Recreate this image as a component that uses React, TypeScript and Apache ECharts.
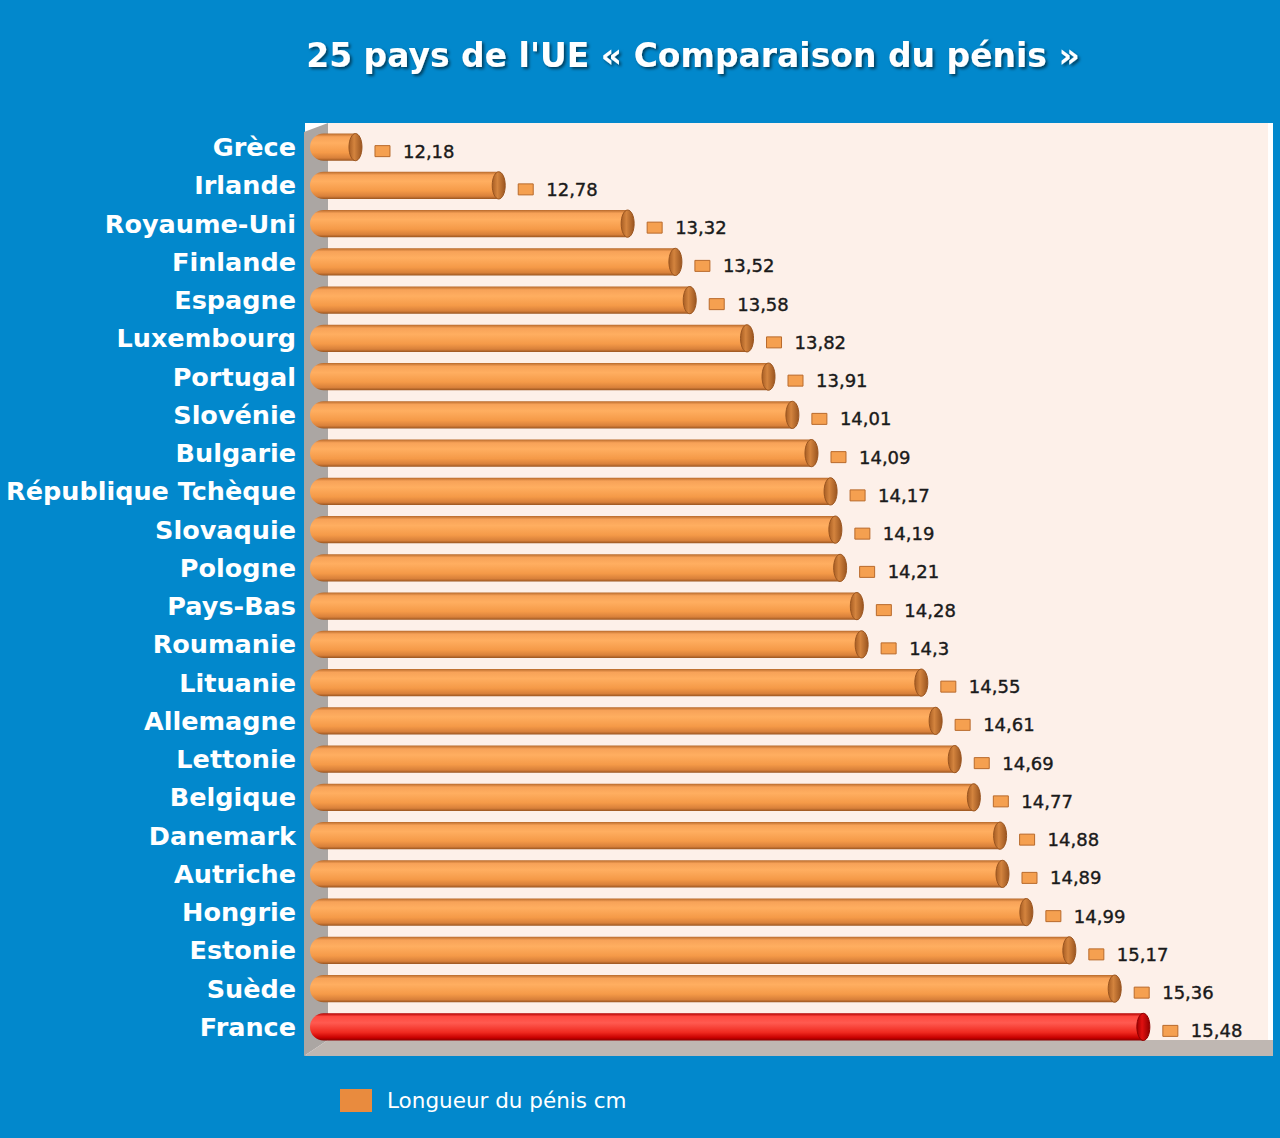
import React, { useEffect, useRef } from "react";
import * as echarts from "echarts";

const categories = [
  "Grèce", "Irlande", "Royaume-Uni", "Finlande", "Espagne", "Luxembourg",
  "Portugal", "Slovénie", "Bulgarie", "République Tchèque", "Slovaquie",
  "Pologne", "Pays-Bas", "Roumanie", "Lituanie", "Allemagne", "Lettonie",
  "Belgique", "Danemark", "Autriche", "Hongrie", "Estonie", "Suède", "France",
];
const values = [
  12.18, 12.78, 13.32, 13.52, 13.58, 13.82, 13.91, 14.01, 14.09, 14.17, 14.19,
  14.21, 14.28, 14.3, 14.55, 14.61, 14.69, 14.77, 14.88, 14.89, 14.99, 15.17,
  15.36, 15.48,
];
const highlighted = ["France"];
const seriesName = "Longueur du pénis cm";
const titleText = "25 pays de l'UE « Comparaison du pénis »";
const X_MIN = 12;
const X_MAX = 16;

const BG = "#0288CC";

function bodyGrad(red: boolean) {
  const stops = red
    ? [
        { offset: 0, color: "#B00000" },
        { offset: 0.12, color: "#FF4A40" },
        { offset: 0.35, color: "#FF5A50" },
        { offset: 0.7, color: "#F02A20" },
        { offset: 0.9, color: "#C80000" },
        { offset: 1, color: "#8A0000" },
      ]
    : [
        { offset: 0, color: "#B86A2C" },
        { offset: 0.12, color: "#F7A258" },
        { offset: 0.35, color: "#FFAE60" },
        { offset: 0.7, color: "#F59A48" },
        { offset: 0.9, color: "#D8803A" },
        { offset: 1, color: "#9A5520" },
      ];
  return new echarts.graphic.LinearGradient(0, 0, 0, 1, stops);
}
function capGrad(red: boolean) {
  const stops = red
    ? [
        { offset: 0, color: "#A00000" },
        { offset: 0.4, color: "#E01010" },
        { offset: 1, color: "#900000" },
      ]
    : [
        { offset: 0, color: "#A85E24" },
        { offset: 0.4, color: "#D4843E" },
        { offset: 1, color: "#9A5520" },
      ];
  return new echarts.graphic.LinearGradient(0, 0, 1, 0, stops);
}

export default function App() {
  const ref = useRef<HTMLDivElement>(null);
  useEffect(() => {
    if (!ref.current) return;
    const chart = echarts.init(ref.current, null, { renderer: "svg" });
    const data = values.map((v, i) => [v, i]);
    const option: any = {
      animation: false,
      backgroundColor: BG,
      title: {
        text: titleText,
        left: 688,
        top: 34,
        textAlign: "center",
        textStyle: {
          color: "#FFFFFF",
          fontFamily: "DejaVu Sans",
          fontWeight: "bold",
          fontSize: 33,
          textShadowColor: "rgba(0,0,0,0.55)",
          textShadowBlur: 3,
          textShadowOffsetX: 2,
          textShadowOffsetY: 2,
        },
      },
      legend: {
        left: 335,
        top: 1084,
        itemWidth: 32,
        itemHeight: 23,
        itemGap: 15,
        icon: "rect",
        textStyle: {
          color: "#FFFFFF",
          fontFamily: "DejaVu Sans",
          fontSize: 21.5,
          padding: [0, 0, 0, 10],
        },
        data: [{ name: seriesName, itemStyle: { color: "#E98B3E" } }],
      },
      graphic: [
        {
          type: "rect",
          silent: true,
          z: -10,
          shape: { x: 305, y: 123, width: 968, height: 932 },
          style: { fill: "#FFFFFF" },
        },
        {
          type: "rect",
          silent: true,
          z: -9,
          shape: { x: 328, y: 123, width: 940, height: 920 },
          style: { fill: "#FDF0E9" },
        },
        {
          type: "polygon",
          silent: true,
          z: -8,
          shape: { points: [[304, 132], [328, 123], [328, 1040], [304, 1056]] },
          style: { fill: "#ABA6A3" },
        },
        {
          type: "polygon",
          silent: true,
          z: -8,
          shape: { points: [[304, 1056], [328, 1040], [1273, 1040], [1273, 1056]] },
          style: { fill: "#BFB7B2" },
        },
      ],
      grid: { left: 319, width: 955, top: 128, height: 918 },
      xAxis: { type: "value", min: X_MIN, max: X_MAX, show: false },
      yAxis: {
        type: "category",
        inverse: true,
        data: categories,
        axisLine: { show: false },
        axisTick: { show: false },
        splitLine: { show: false },
        axisLabel: {
          color: "#FFFFFF",
          fontFamily: "DejaVu Sans",
          fontWeight: "bold",
          fontSize: 25.5,
          margin: 23,
        },
      },
      series: [
        {
          type: "custom",
          name: seriesName,
          itemStyle: { color: "#E98B3E" },
          encode: { x: 0, y: 1 },
          data,
          renderItem: (params: any, api: any) => {
            const v = api.value(0);
            const idx = api.value(1);
            const end = api.coord([v, idx]);
            const start = api.coord([X_MIN, idx]);
            const bandH = api.size([0, 1])[1];
            const h = bandH * 0.71;
            const capW = 13;
            const x0 = start[0] - 9;
            const x1 = end[0];
            const cy = end[1];
            const red = highlighted.includes(categories[idx]);
            const label = String(v).replace(".", ",");
            return {
              type: "group",
              children: [
                {
                  type: "rect",
                  shape: { x: x0, y: cy - h / 2, width: x1 - x0 - capW / 2, height: h, r: [h / 2, 0, 0, h / 2] },
                  style: { fill: bodyGrad(red) },
                },
                {
                  type: "ellipse",
                  shape: { cx: x1 - capW / 2, cy, rx: capW / 2, ry: h / 2 },
                  style: { fill: capGrad(red), stroke: red ? "#900000" : "#9A5520", lineWidth: 1 },
                },
                {
                  type: "rect",
                  shape: { x: x1 + 13, y: cy + 4 - 5.5, width: 15, height: 11 },
                  style: { fill: "#F5A050", stroke: "#B86A2C", lineWidth: 1 },
                },
                {
                  type: "text",
                  x: x1 + 41,
                  y: cy + 4,
                  style: {
                    text: label,
                    fill: "#1A1A1A",
                    fontFamily: "DejaVu Sans",
                    fontSize: 18,
                    verticalAlign: "middle",
                    align: "left",
                    stroke: "#1A1A1A",
                    lineWidth: 0.4,
                  },
                },
              ],
            };
          },
        },
      ],
    };
    chart.setOption(option);
    return () => chart.dispose();
  }, []);
  return (
    <div
      ref={ref}
      style={{ position: "fixed", left: 0, top: 0, width: 1280, height: 1138 }}
    />
  );
}
